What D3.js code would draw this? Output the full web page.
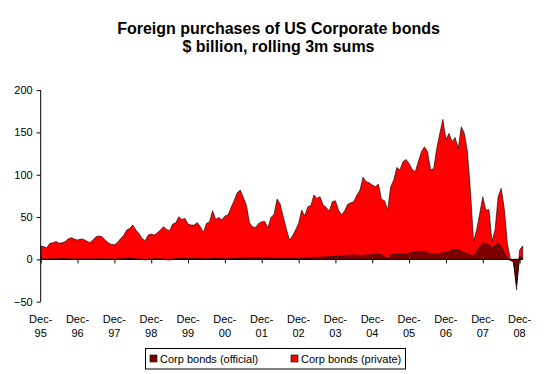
<!DOCTYPE html>
<html>
<head>
<meta charset="utf-8">
<script src="https://cdn.jsdelivr.net/npm/d3@7"></script>
<style>
  html, body { margin: 0; padding: 0; background: #fff; }
  svg { display: block; font-family: "Liberation Sans", Arial, sans-serif; }
</style>
</head>
<body>
<svg id="chart" width="547" height="374"></svg>
<script>
// ---- data (monthly, Dec-95 .. Jan-09), $ billion rolling 3m sums ----
const yearLabels = ["95","96","97","98","99","00","01","02","03","04","05","06","07","08"];
const yTicks = [-50, 0, 50, 100, 150, 200];
const seriesNames = ["Corp bonds (official)", "Corp bonds (private)"];
const titleLines = ["Foreign purchases of US Corporate bonds", "$ billion, rolling 3m sums"];

const official = [
  0.3, 0.2, 0.3, 0.5, 0.6, 0.5, 0.8, 1.0, 0.8, 0.5, 0.4, 0.3,
  0.3, 0.4, 0.5, 0.4, 0.3, 0.3, 0.4, 0.5, 0.6, 0.5, 0.4, 0.3,
  0.3, 0.4, 0.5, 0.8, 1.0, 1.2, 1.0, 0.6, 0.3, 0.0, -0.5, 0.2,
  0.5, 0.8, 0.6, 0.4, 0.2, -0.3, -0.6, 0.3, 0.8, 1.0, 1.2, 1.0,
  0.8, 0.9, 1.0, 1.1, 0.9, 0.7, 0.6, 0.8, 1.0, 1.2, 1.0, 0.8,
  0.7, 0.8, 0.9, 1.0, 1.2, 1.5, 1.8, 2.0, 2.2, 2.0, 1.8, 2.0,
  2.2, 2.0, 1.6, 1.2, 1.0, 0.9, 1.0, 1.2, 1.1, 1.0, 1.0, 1.1,
  1.2, 1.4, 1.6, 1.8, 2.0, 2.2, 2.4, 2.6, 2.8, 3.0, 3.2, 3.4,
  3.6, 3.8, 4.0, 4.4, 4.8, 5.0, 5.2, 5.0, 4.6, 4.8, 5.0, 5.2,
  5.5, 5.8, 6.2, 5.8, 3.0, 1.2, 5.0, 6.0, 6.2, 6.0, 6.3, 6.8,
  7.0, 8.0, 8.6, 9.2, 9.8, 8.6, 7.4, 6.8, 6.6, 6.8, 7.0, 7.4,
  8.2, 9.5, 10.8, 11.2, 10.8, 9.5, 8.0, 6.5, 5.0, 4.0, 9.0, 15.0,
  19.7, 18.0, 17.0, 14.0, 16.0, 19.0, 16.0, 8.0, 1.0, -1.0, -3.0, -30.0,
  3.0, 2.0
];

const privateVals = [
  15.4, 14.8, 13.5, 18.5, 19.1, 20.5, 18.2, 18.7, 20.2, 23.9, 25.2, 23.7,
  22.5, 23.6, 23.1, 21.3, 19.4, 22.5, 26.4, 27.1, 26.2, 22.3, 19.3, 17.4,
  17.0, 19.6, 23.9, 27.5, 33.6, 35.4, 39.6, 34.0, 30.4, 24.8, 22.5, 28.5,
  29.5, 27.9, 30.9, 34.2, 38.4, 35.7, 34.5, 41.4, 42.5, 49.4, 46.0, 47.4,
  40.9, 39.6, 39.5, 42.4, 37.7, 31.2, 41.9, 43.7, 56.5, 46.0, 48.6, 45.7,
  50.5, 51.6, 60.5, 68.3, 77.5, 80.4, 71.4, 62.2, 41.1, 36.6, 36.0, 40.5,
  42.3, 42.9, 35.8, 48.4, 52.1, 70.4, 64.4, 49.2, 35.5, 21.8, 26.6, 33.5,
  41.3, 56.9, 49.6, 60.4, 61.8, 73.8, 69.6, 71.4, 61.4, 58.4, 53.8, 64.7,
  65.7, 54.5, 48.4, 53.1, 60.2, 61.9, 62.9, 71.0, 77.3, 92.2, 86.7, 85.4,
  82.3, 80.0, 82.8, 65.1, 66.3, 57.1, 80.8, 87.7, 102.5, 99.5, 109.1, 111.3,
  106.4, 98.3, 94.9, 106.2, 117.4, 124.4, 119.8, 98.7, 100.9, 124.2, 141.8, 158.0,
  133.5, 139.3, 128.2, 132.8, 120.2, 147.2, 140.8, 120.7, 75.0, 17.0, 26.0, 39.0,
  54.3, 40.0, 42.0, 7.0, 19.0, 55.0, 68.0, 52.0, 18.0, 1.0, 2.0, -6.0,
  8.0, 14.0
];

const colors = ["#800000", "#ff0000"];

// ---- build table ----
const table = official.map((o, i) => ({ idx: i, official: o, "private": privateVals[i] }));

const svg = d3.select("#chart");

const x = d3.scaleLinear().domain([0, official.length - 1]).range([40.7, 40.7 + (official.length - 1) * 3.07]);
const y = d3.scaleLinear().domain([-50, 200]).range([301.7, 90.1]);

const stack = d3.stack().keys(["official", "private"]).offset(d3.stackOffsetNone);
const layers = stack(table);

const area = d3.area()
  .x(d => x(d.data.idx))
  .y0(d => y(d[0]))
  .y1(d => y(d[1]));

svg.append("g").selectAll("path")
  .data(layers)
  .join("path")
  .attr("d", area)
  .attr("fill", (d, i) => colors[i])
  .attr("stroke", "#000")
  .attr("stroke-width", 0.6)
  .attr("stroke-linejoin", "round");

// ---- y axis ----
const yAxis = d3.axisLeft(y).tickValues(yTicks).tickSize(4).tickPadding(4);
const gy = svg.append("g").attr("transform", "translate(40.7,0)").call(yAxis);
gy.select(".domain").remove();
gy.append("line").attr("x1", 0).attr("x2", 0).attr("y1", y(200)).attr("y2", y(-50))
  .attr("stroke", "#000").attr("stroke-width", 1);
gy.selectAll(".tick line").attr("stroke", "#000");
gy.selectAll(".tick text").attr("font-size", 11).attr("fill", "#000")
  .attr("font-family", "Liberation Sans, Arial, sans-serif");

// ---- x axis at zero ----
const tickIdx = yearLabels.map((_, k) => k * 12);
const xAxis = d3.axisBottom(x).tickValues(tickIdx).tickSize(4).tickFormat("");
const gx = svg.append("g").attr("transform", `translate(0,${y(0)})`).call(xAxis);
gx.select(".domain").attr("stroke", "#000").attr("d", `M${x(0)},0H${x(official.length - 1)}`);
gx.selectAll(".tick line").attr("stroke", "#000");

// x labels (low position)
const lab = svg.append("g").attr("font-size", 11).attr("fill", "#000").attr("text-anchor", "middle");
yearLabels.forEach((yl, k) => {
  const t = lab.append("text").attr("x", x(k * 12)).attr("y", 323);
  t.append("tspan").attr("x", x(k * 12)).text("Dec-");
  t.append("tspan").attr("x", x(k * 12)).attr("dy", 14).text(yl);
});

// ---- title ----
const title = svg.append("g").attr("text-anchor", "middle").attr("font-weight", "bold")
  .attr("font-size", 16).attr("fill", "#000");
title.append("text").attr("x", 278.5).attr("y", 34).text(titleLines[0]);
title.append("text").attr("x", 278.5).attr("y", 51.5).text(titleLines[1]);

// ---- legend ----
const lg = svg.append("g");
lg.append("rect").attr("x", 145.5).attr("y", 348.5).attr("width", 260).attr("height", 20.5)
  .attr("fill", "#fff").attr("stroke", "#000").attr("stroke-width", 1);
const legX = [150, 291];
seriesNames.forEach((n, i) => {
  lg.append("rect").attr("x", legX[i]).attr("y", 355).attr("width", 7).attr("height", 7)
    .attr("fill", colors[i]).attr("stroke", "#000").attr("stroke-width", 0.6);
  lg.append("text").attr("x", legX[i] + 10).attr("y", 362.5).attr("font-size", 11).attr("fill", "#000").text(n);
});
</script>
</body>
</html>
